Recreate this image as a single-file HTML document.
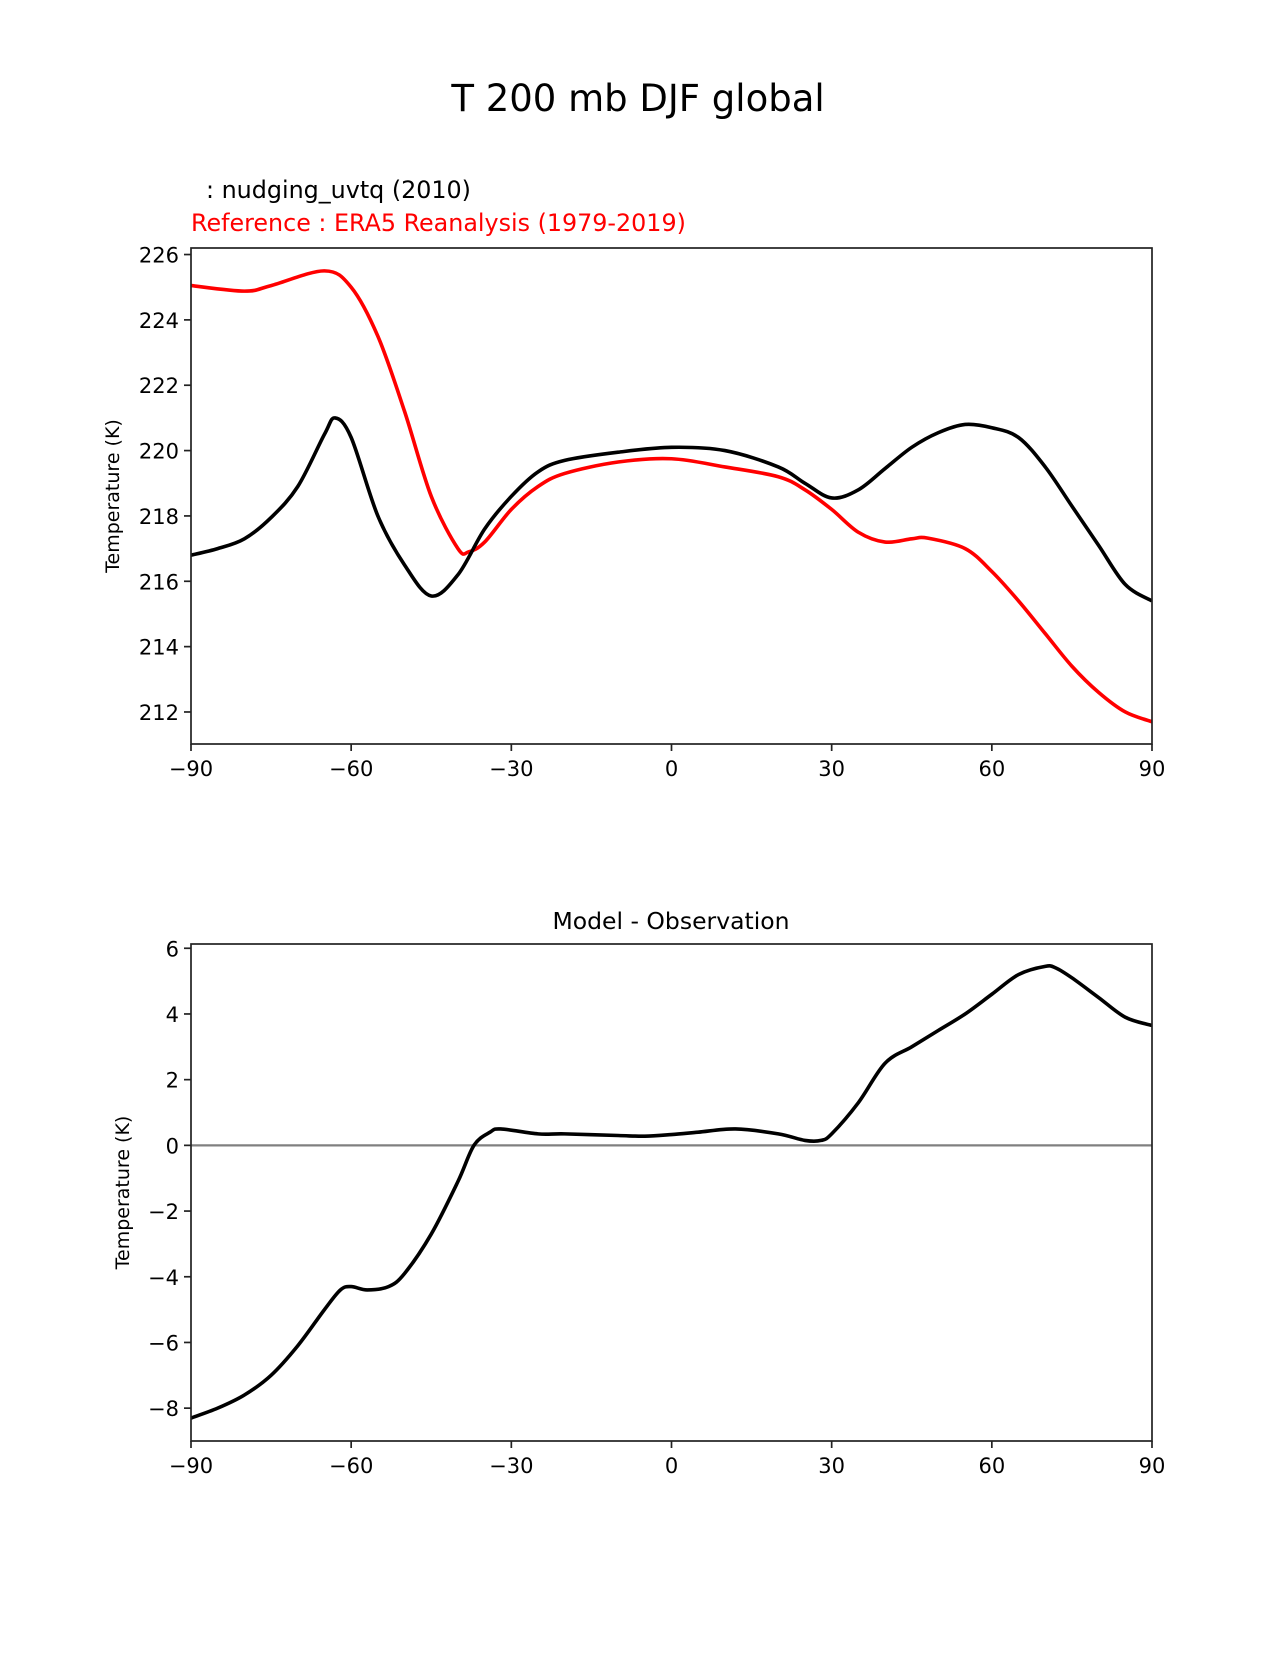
<!DOCTYPE html>
<html><head><meta charset="utf-8">
<style>
html,body{margin:0;padding:0;background:#fff;}
svg text{font-family:"DejaVu Sans","Liberation Sans",sans-serif;}
</style></head>
<body>
<svg id="fig" width="1275" height="1650" xmlns="http://www.w3.org/2000/svg">
<rect width="1275" height="1650" fill="#fff"/>
<text x="638" y="111" font-size="37" text-anchor="middle">T 200 mb DJF global</text>
<text x="206" y="198" font-size="23.8">: nudging_uvtq (2010)</text>
<text x="191" y="231" font-size="23.8" fill="#ff0000">Reference : ERA5 Reanalysis (1979-2019)</text>
<text x="671" y="929" font-size="23.5" text-anchor="middle">Model - Observation</text>
<g id="top"></g>
<g id="bot"></g>
</svg>
<script>
const xTicks = [-90,-60,-30,0,30,60,90];
const topYTicks = [212,214,216,218,220,222,224,226];
const botYTicks = [-8,-6,-4,-2,0,2,4,6];
const lats = [-90,-85,-80,-75,-70,-65,-63,-60,-55,-50,-45,-40,-35,-30,-25,-20,-10,0,10,20,25,30,35,40,45,50,55,60,65,70,75,80,85,90];
const modelT = [216.8,217.0,217.3,217.95,218.9,220.5,221.0,220.4,218.0,216.5,215.55,216.2,217.6,218.6,219.35,219.7,219.95,220.1,220.0,219.5,219.0,218.55,218.8,219.45,220.1,220.55,220.8,220.7,220.4,219.5,218.3,217.1,215.9,215.4];
const refLats = [-90,-80,-75,-65,-60,-55,-50,-45,-40,-38,-35,-30,-25,-20,-10,0,10,20,25,30,35,40,45,48,55,60,65,70,75,80,85,90];
const refT = [225.05,224.88,225.05,225.5,225.0,223.5,221.2,218.6,217.0,216.9,217.2,218.2,218.9,219.3,219.65,219.75,219.5,219.2,218.8,218.2,217.5,217.2,217.3,217.32,217.0,216.3,215.4,214.4,213.4,212.6,212.0,211.7];
const diffLats = [-90,-85,-80,-75,-70,-65,-62,-60,-57,-53,-50,-45,-40,-37,-34,-32,-25,-20,-10,-5,0,5,12,20,25,28,30,35,40,45,50,55,60,65,70,72,75,80,85,90];
const diffT = [-8.3,-8.0,-7.6,-7.0,-6.1,-5.0,-4.4,-4.3,-4.4,-4.3,-3.9,-2.7,-1.1,0.0,0.4,0.5,0.35,0.35,0.3,0.28,0.33,0.4,0.5,0.35,0.15,0.15,0.35,1.3,2.5,3.0,3.5,4.0,4.6,5.2,5.45,5.4,5.1,4.5,3.9,3.65];

const NS='http://www.w3.org/2000/svg';
function mk(parent,tag,attrs){const e=document.createElementNS(NS,tag);for(const k in attrs)e.setAttribute(k,attrs[k]);parent.appendChild(e);return e;}
function smoothPath(pts){
  let d='M'+pts[0][0].toFixed(2)+','+pts[0][1].toFixed(2);
  for(let i=0;i<pts.length-1;i++){
    const p0=pts[Math.max(0,i-1)],p1=pts[i],p2=pts[i+1],p3=pts[Math.min(pts.length-1,i+2)];
    const c1=[p1[0]+(p2[0]-p0[0])/6,p1[1]+(p2[1]-p0[1])/6];
    const c2=[p2[0]-(p3[0]-p1[0])/6,p2[1]-(p3[1]-p1[1])/6];
    d+=' C'+c1[0].toFixed(2)+','+c1[1].toFixed(2)+' '+c2[0].toFixed(2)+','+c2[1].toFixed(2)+' '+p2[0].toFixed(2)+','+p2[1].toFixed(2);
  }
  return d;
}
function panel(g,top,bottom,ymin,ymax,yTicks,series,zeroLine,ylabY){
  const L=191,R=1152;
  const sx=v=>L+(v+90)/180*(R-L);
  const sy=v=>bottom-(v-ymin)/(ymax-ymin)*(bottom-top);
  const defs=mk(g,'clipPath',{id:g.id+'clip'});mk(defs,'rect',{x:L,y:top,width:R-L,height:bottom-top});
  if(zeroLine){
    const z=mk(g,'line',{x1:L,x2:R,y1:sy(0),y2:sy(0),stroke:'#808080','stroke-width':2.2});
    
    
  }
  series.forEach(s=>{
    const pts=s.x.map((v,i)=>[sx(v),sy(s.y[i])]);
    const p=mk(g,'path',{d:smoothPath(pts),fill:'none',stroke:s.color,'stroke-width':3.6,'stroke-linejoin':'round','clip-path':'url(#'+g.id+'clip)'});
    
    
  });
  const fr=mk(g,'rect',{x:L,y:top,width:R-L,height:bottom-top,fill:'none',stroke:'#222','stroke-width':1.7});
  
  
  xTicks.forEach(t=>{
    const x=sx(t);
    mk(g,'line',{x1:x,x2:x,y1:bottom,y2:bottom+7,stroke:'#222','stroke-width':1.7});
    const tx=mk(g,'text',{x:x,y:bottom+32,'font-size':21,'text-anchor':'middle'});
    tx.textContent=(t<0?'\u2212'+(-t):''+t);
    
    
  });
  yTicks.forEach(t=>{
    const y=sy(t);
    mk(g,'line',{x1:L-7,x2:L,y1:y,y2:y,stroke:'#222','stroke-width':1.7});
    const tx=mk(g,'text',{x:L-12,y:y+8,'font-size':21,'text-anchor':'end'});
    tx.textContent=(t<0?'\u2212'+(-t):''+t);
    
    
  });
  const yl=mk(g,'text',{x:ylabY,y:(top+bottom)/2,'font-size':19,'text-anchor':'middle',transform:'rotate(-90 '+ylabY+' '+(top+bottom)/2+')'});
  yl.textContent='Temperature (K)';
  
  
}
panel(document.getElementById('top'),248,744,211.02,226.2,topYTicks,[
  {x:refLats,y:refT,color:'#ff0000',name:'reference-line'},
  {x:lats,y:modelT,color:'#000000',name:'model-line'}],false,119);
panel(document.getElementById('bot'),944,1441,-9.0,6.13,botYTicks,[
  {x:diffLats,y:diffT,color:'#000000',name:'difference-line'}],true,129);
</script>
</body></html>
